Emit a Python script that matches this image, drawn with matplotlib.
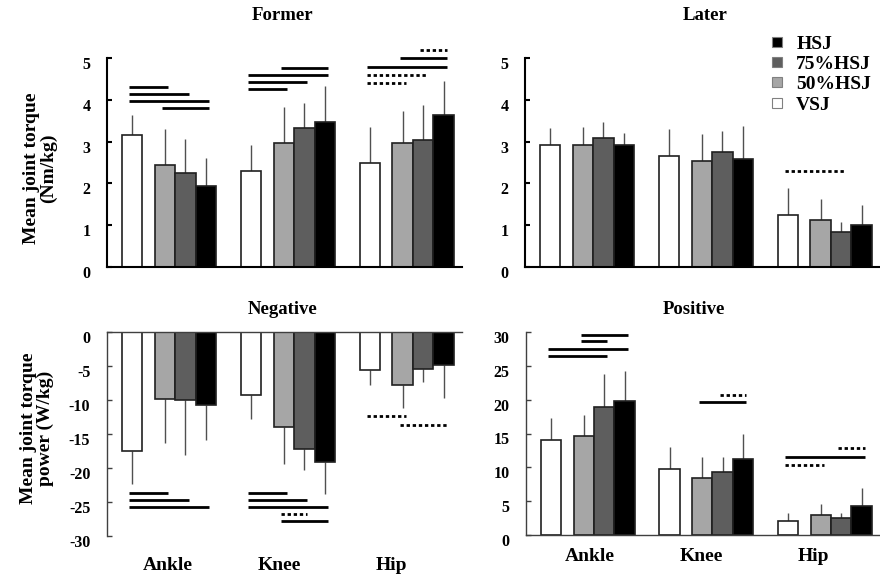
import matplotlib
matplotlib.use('Agg')
import matplotlib.pyplot as plt
import matplotlib.transforms as mtransforms
from matplotlib.lines import Line2D
import numpy as np

plt.rcParams['font.family'] = ['Liberation Serif', 'DejaVu Serif']
plt.rcParams['font.weight'] = 'bold'
plt.rcParams['axes.unicode_minus'] = False

# ---------------- data ----------------
joints = ['Ankle', 'Knee', 'Hip']
conditions = ['VSJ', '50%HSJ', '75%HSJ', 'HSJ']
legend_order = ['HSJ', '75%HSJ', '50%HSJ', 'VSJ']
bar_colors = ['#ffffff', '#a6a6a6', '#5e5e5e', '#000000']

# Former (Nm/kg): values per condition across joints
former_vsj = [3.16, 2.30, 2.48]
former_50 = [2.43, 2.97, 2.97]
former_75 = [2.25, 3.32, 3.04]
former_hsj = [1.93, 3.46, 3.64]
former_vsj_sd = [0.48, 0.61, 0.86]
former_50_sd = [0.88, 0.85, 0.77]
former_75_sd = [0.81, 0.60, 0.84]
former_hsj_sd = [0.68, 0.88, 0.82]

# Later (Nm/kg)
later_vsj = [2.93, 2.66, 1.25]
later_50 = [2.92, 2.54, 1.13]
later_75 = [3.08, 2.76, 0.84]
later_hsj = [2.93, 2.59, 1.01]
later_vsj_sd = [0.40, 0.65, 0.64]
later_50_sd = [0.42, 0.65, 0.50]
later_75_sd = [0.38, 0.50, 0.24]
later_hsj_sd = [0.28, 0.79, 0.48]

# Negative power (W/kg)
neg_vsj = [-17.5, -9.3, -5.56]
neg_50 = [-9.8, -13.9, -7.8]
neg_75 = [-10.0, -17.2, -5.5]
neg_hsj = [-10.8, -19.1, -4.8]
neg_vsj_sd = [4.8, 3.5, 2.3]
neg_50_sd = [6.5, 5.5, 3.4]
neg_75_sd = [8.05, 3.1, 1.9]
neg_hsj_sd = [5.1, 4.7, 4.9]

# Positive power (W/kg)
pos_vsj = [14.07, 9.79, 2.0]
pos_50 = [14.66, 8.46, 2.9]
pos_75 = [18.94, 9.3, 2.56]
pos_hsj = [19.87, 11.17, 4.23]
pos_vsj_sd = [3.2, 3.2, 1.3]
pos_50_sd = [3.1, 3.0, 1.7]
pos_75_sd = [4.8, 2.2, 0.75]
pos_hsj_sd = [4.3, 3.7, 2.75]

# significance bars: (joint index, from condition, to condition, y level, dotted)
former_sig = [(0, 0, 1, 4.30, False), (0, 0, 2, 4.14, False), (0, 0, 3, 3.97, False), (0, 1, 3, 3.80, False),
              (1, 1, 3, 4.77, False), (1, 0, 3, 4.60, False), (1, 0, 2, 4.43, False), (1, 0, 1, 4.27, False),
              (2, 2, 3, 5.18, True), (2, 1, 3, 5.00, False), (2, 0, 3, 4.79, False),
              (2, 0, 2, 4.59, True), (2, 0, 1, 4.39, True)]
later_sig = [(2, 0, 2, 2.29, True)]
neg_sig = [(0, 0, 1, -23.7, False), (0, 0, 2, -24.7, False), (0, 0, 3, -25.8, False),
           (1, 0, 1, -23.7, False), (1, 0, 2, -24.7, False), (1, 0, 3, -25.8, False),
           (1, 1, 2, -26.8, True), (1, 1, 3, -27.8, False),
           (2, 0, 1, -12.4, True), (2, 1, 3, -13.7, True)]
pos_sig = [(0, 1, 3, 29.6, False), (0, 1, 2, 28.6, False), (0, 0, 3, 27.5, False), (0, 0, 2, 26.5, False),
           (1, 2, 3, 20.7, True), (1, 1, 3, 19.6, False),
           (2, 2, 3, 12.8, True), (2, 0, 3, 11.6, False), (2, 0, 1, 10.3, True)]

# ---------------- layout ----------------
W, H = 880, 578
fig = plt.figure(figsize=(W / 100, H / 100), dpi=100)


def rect(l, r, t, b):
    return [l / W, 1 - b / H, (r - l) / W, (b - t) / H]


offsets = [0.0, 1.6, 2.6, 3.6]
group_step = 5.8


def xpos(g, j):
    return g * group_step + offsets[j]


def draw_panel(ax, means, sds, sig, ylim, yticks, negative, heavy):
    for j in range(4):
        xs = [xpos(g, j) for g in range(3)]
        m = np.array(means[j])
        s = np.array(sds[j])
        if negative:
            yerr = [s, np.zeros_like(s)]
        else:
            yerr = [np.zeros_like(s), s]
        ax.errorbar(xs, m, yerr=yerr, fmt='none', ecolor='#505050', elinewidth=1.0,
                    capsize=0, zorder=1)
        ax.bar(xs, m, width=1.0, color=bar_colors[j], edgecolor='#202020',
               linewidth=1.2, zorder=2)
    ext = 0.15
    for g, a, b, y, dotted in sig:
        ls = (0, (1.2, 1.0)) if dotted else '-'
        ax.plot([xpos(g, a) - ext, xpos(g, b) + ext], [y, y], color='black', lw=2.0,
                linestyle=ls, solid_capstyle='butt', dash_capstyle='butt',
                clip_on=False, zorder=3)
    ax.set_xlim(-1.23, 16.1)
    ax.set_ylim(*ylim)
    ax.set_yticks(yticks)
    ax.set_yticklabels([str(v) for v in yticks])
    spine_c = 'black' if heavy else '#404040'
    spine_w = 1.5 if heavy else 1.0
    ax.spines['right'].set_visible(False)
    if negative:
        ax.spines['bottom'].set_visible(False)
        ax.spines['top'].set_color(spine_c)
        ax.spines['top'].set_linewidth(spine_w)
    else:
        ax.spines['top'].set_visible(False)
        ax.spines['bottom'].set_color(spine_c)
        ax.spines['bottom'].set_linewidth(spine_w)
    ax.spines['left'].set_color(spine_c)
    ax.spines['left'].set_linewidth(spine_w)
    ax.tick_params(axis='y', direction='in', length=3.5, width=spine_w, color=spine_c,
                   pad=12, labelsize=11.5)
    ax.tick_params(axis='x', length=0)
    for lab in ax.get_yticklabels():
        lab.set_fontweight('bold')
        lab.set_transform(lab.get_transform() +
                          mtransforms.ScaledTranslation(0, -5 / 100, fig.dpi_scale_trans))


ax1 = fig.add_axes(rect(107, 462, 58, 267))
draw_panel(ax1, [former_vsj, former_50, former_75, former_hsj],
           [former_vsj_sd, former_50_sd, former_75_sd, former_hsj_sd],
           former_sig, (0, 5), [0, 1, 2, 3, 4, 5], False, True)
ax1.set_xticks([])

ax2 = fig.add_axes(rect(525, 880, 58, 267))
draw_panel(ax2, [later_vsj, later_50, later_75, later_hsj],
           [later_vsj_sd, later_50_sd, later_75_sd, later_hsj_sd],
           later_sig, (0, 5), [0, 1, 2, 3, 4, 5], False, True)
ax2.set_xticks([])

label_pos = [1.8 + 5.47 * g for g in range(3)]

ax3 = fig.add_axes(rect(107, 462, 332, 536))
draw_panel(ax3, [neg_vsj, neg_50, neg_75, neg_hsj],
           [neg_vsj_sd, neg_50_sd, neg_75_sd, neg_hsj_sd],
           neg_sig, (-30, 0), [0, -5, -10, -15, -20, -25, -30], True, False)
ax3.set_xticks([p - 0.07 for p in label_pos])
ax3.set_xticklabels(joints, fontsize=14, fontweight='bold')
ax3.tick_params(axis='x', pad=15.3)

ax4 = fig.add_axes(rect(526, 880, 332, 535))
draw_panel(ax4, [pos_vsj, pos_50, pos_75, pos_hsj],
           [pos_vsj_sd, pos_50_sd, pos_75_sd, pos_hsj_sd],
           pos_sig, (0, 30), [0, 5, 10, 15, 20, 25, 30], False, False)
ax4.set_xticks([p + 0.08 for p in label_pos])
ax4.set_xticklabels(joints, fontsize=14, fontweight='bold')
ax4.tick_params(axis='x', pad=9.3)

# titles
for txt, xpx, ypx in [('Former', 283, 16), ('Later', 705, 16),
                      ('Negative', 283, 309), ('Positive', 694, 309)]:
    fig.text(xpx / W, 1 - ypx / H, txt, ha='center', va='center',
             fontsize=13.5, fontweight='bold')

# y labels
fig.text(40 / W, 1 - 168 / H, 'Mean joint torque\n(Nm/kg)', rotation=90,
         ha='center', va='center', fontsize=14, fontweight='bold',
         linespacing=1.0, multialignment='center')
fig.text(37 / W, 1 - 428 / H, 'Mean joint torque\npower (W/kg)', rotation=90,
         ha='center', va='center', fontsize=14, fontweight='bold',
         linespacing=1.0, multialignment='center')

# legend
color_of = dict(zip(conditions, bar_colors))
handles = [Line2D([], [], marker='s', linestyle='none', markersize=6.5,
                  markerfacecolor=color_of[c], markeredgecolor='#808080',
                  markeredgewidth=0.8) for c in legend_order]
fig.legend(handles, legend_order, loc='upper left',
           bbox_to_anchor=(768 / W, 1 - 35 / H), frameon=False,
           handlelength=0.9, handletextpad=0.55, labelspacing=0.14,
           borderpad=0, borderaxespad=0, prop={'weight': 'bold', 'size': 14})

fig.savefig('out.png', dpi=100)
